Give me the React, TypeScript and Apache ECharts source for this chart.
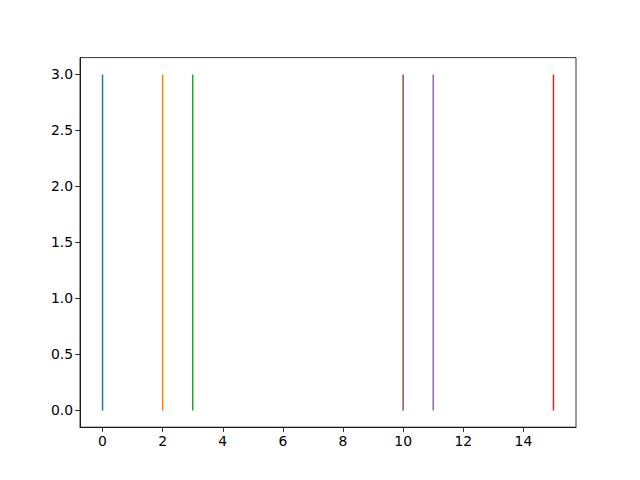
import React, { useEffect, useRef } from "react";
import * as echarts from "echarts";

const xPositions = [0, 2, 3, 10, 11, 15];
const lineColors = ["#1f77b4", "#ff7f0e", "#2ca02c", "#8c564b", "#9467bd", "#d62728"];
const yBottom = 0;
const yTop = 3;
const xTicks = [0, 2, 4, 6, 8, 10, 12, 14];
const yTicks = [0, 0.5, 1, 1.5, 2, 2.5, 3];

export default function App() {
  const ref = useRef<HTMLDivElement>(null);
  useEffect(() => {
    if (!ref.current) return;
    const chart = echarts.init(ref.current, undefined, { renderer: "svg" });
    const font = { fontFamily: "DejaVu Sans", fontSize: 13.9, color: "#000" };
    chart.setOption({
      animation: false,
      backgroundColor: "#fff",
      grid: {
        left: 80,
        right: 64,
        top: 57.6,
        bottom: 52.8,
        show: true,
        borderColor: "#000",
        borderWidth: 0.8,
        backgroundColor: "transparent",
      },
      xAxis: {
        type: "value",
        min: -0.75,
        max: 15.75,
        splitLine: { show: false },
        axisLine: { show: true, onZero: false, lineStyle: { color: "#000", width: 0.8 } },
        axisTick: { show: true, customValues: xTicks, length: 4.9, lineStyle: { color: "#000", width: 0.8 } },
        axisLabel: { show: true, customValues: xTicks, margin: 7, ...font, formatter: (v: number) => String(v) },
      },
      yAxis: {
        type: "value",
        min: -0.15,
        max: 3.15,
        splitLine: { show: false },
        axisLine: { show: true, onZero: false, lineStyle: { color: "#000", width: 0.8 } },
        axisTick: { show: true, customValues: yTicks, length: 4.9, lineStyle: { color: "#000", width: 0.8 } },
        axisLabel: { show: true, customValues: yTicks, margin: 7, ...font, formatter: (v: number) => v.toFixed(1) },
      },
      series: xPositions.map((x, i) => ({
        type: "line",
        data: [
          [x, yBottom],
          [x, yTop],
        ],
        showSymbol: false,
        symbol: "none",
        lineStyle: { color: lineColors[i], width: 1.5 },
      })),
    });
    return () => chart.dispose();
  }, []);
  return <div ref={ref} style={{ width: 640, height: 480, position: "absolute", left: 0, top: 0 }} />;
}
